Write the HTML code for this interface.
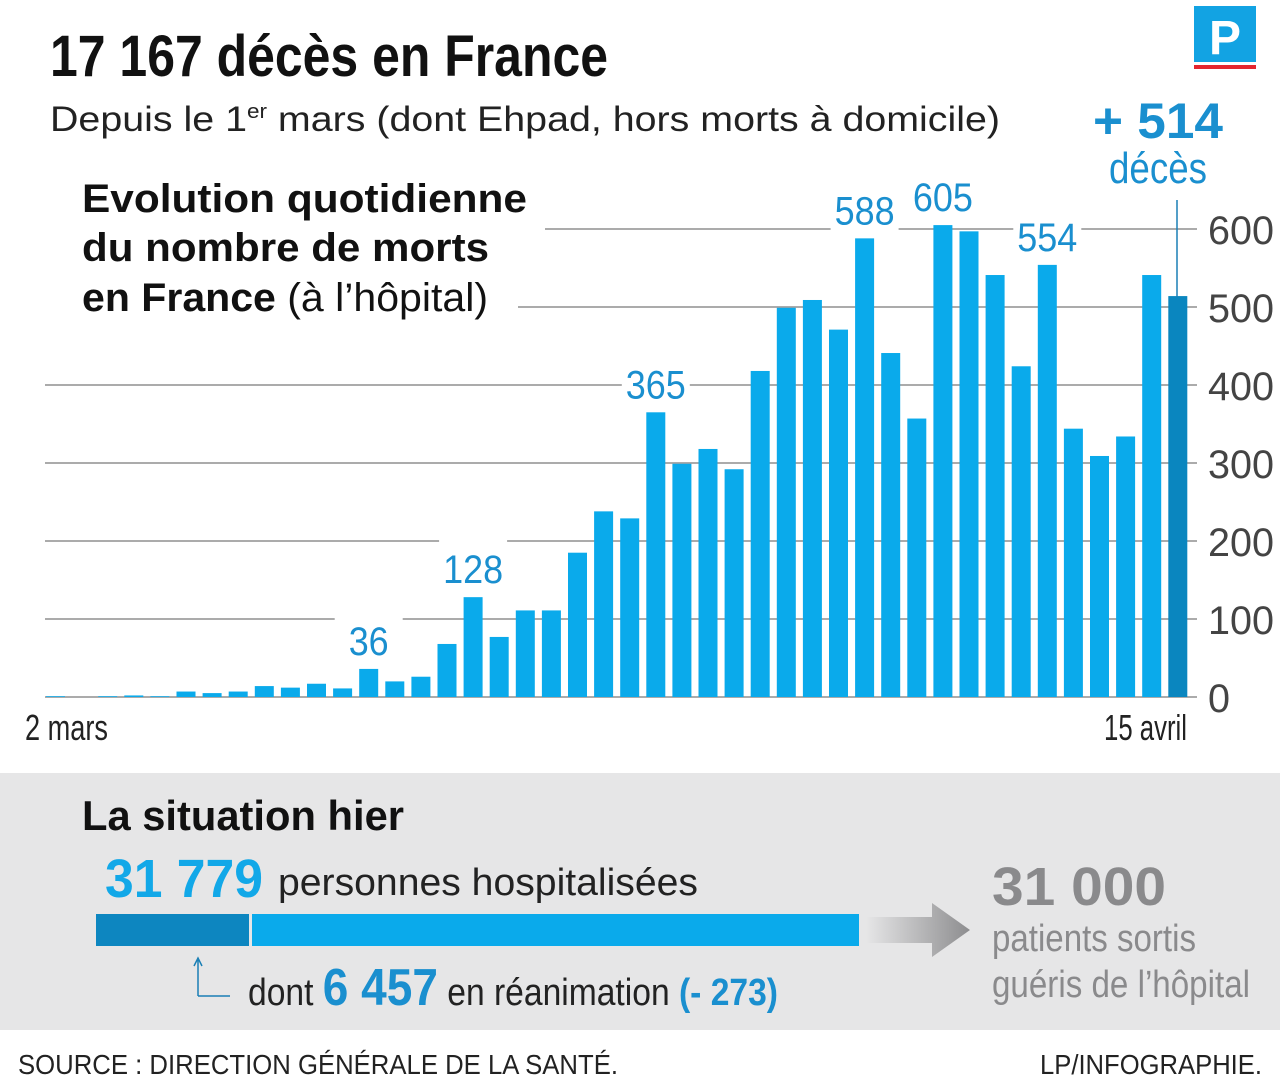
<!DOCTYPE html>
<html><head><meta charset="utf-8"><style>
html,body{margin:0;padding:0;background:#fff;}
svg{display:block;}
text{font-family:"Liberation Sans Narrow","Liberation Sans",sans-serif;}
</style></head><body>
<svg id="chart" width="1280" height="1080" viewBox="0 0 1280 1080">
  <text x="50" y="76" font-size="58" font-weight="bold" fill="#111" textLength="558" lengthAdjust="spacingAndGlyphs">17 167 décès en France</text>
  <g>
    <rect x="1194" y="6" width="62" height="56" fill="#12a3e3"/>
    <rect x="1194" y="65" width="62" height="4" fill="#e3262f"/>
    <text x="1225" y="54" font-size="48" font-weight="bold" fill="#fff" text-anchor="middle" font-family="Liberation Serif,serif">P</text>
  </g>
  <text x="50" y="131" font-size="35" fill="#222" font-family="Liberation Sans,sans-serif" textLength="950" lengthAdjust="spacingAndGlyphs">Depuis le 1<tspan font-size="20" dy="-13">er</tspan><tspan dy="13"> mars (dont Ehpad, hors morts à domicile)</tspan></text>
  <g>
    <text x="82" y="212" font-size="40" font-weight="bold" fill="#111" textLength="445" lengthAdjust="spacingAndGlyphs">Evolution quotidienne</text>
    <text x="82" y="261" font-size="40" font-weight="bold" fill="#111" textLength="407" lengthAdjust="spacingAndGlyphs">du nombre de morts</text>
    <text x="82" y="311" font-size="40" fill="#111" textLength="406" lengthAdjust="spacingAndGlyphs"><tspan font-weight="bold">en France</tspan> (à l’hôpital)</text>
  </g>
  <g id="grid"></g>
  <g id="bars"></g>
  <g id="labels"></g>
  <text x="1158" y="138" font-size="50" font-weight="bold" fill="#1a8fcf" text-anchor="middle" font-family="Liberation Sans,sans-serif" textLength="130" lengthAdjust="spacingAndGlyphs">+ 514</text>
  <text x="1158" y="183" font-size="44" fill="#1a8fcf" text-anchor="middle" textLength="98" lengthAdjust="spacingAndGlyphs">décès</text>
  <line x1="1177" y1="200" x2="1177" y2="297" stroke="#1a7fb5" stroke-width="1.5"/>
  <text x="25" y="740" font-size="36" fill="#222" textLength="83" lengthAdjust="spacingAndGlyphs">2 mars</text>
  <text x="1104" y="740" font-size="36" fill="#222" textLength="83" lengthAdjust="spacingAndGlyphs">15 avril</text>

  <rect x="0" y="773" width="1280" height="257" fill="#e6e6e7"/>
  <text x="82" y="830" font-size="42" font-weight="bold" fill="#111" textLength="322" lengthAdjust="spacingAndGlyphs">La situation hier</text>
  <text x="105" y="897" font-size="54" font-weight="bold" fill="#12a8e8" textLength="158" lengthAdjust="spacingAndGlyphs">31 779</text>
  <text x="278" y="895" font-size="38" fill="#222" textLength="420" lengthAdjust="spacingAndGlyphs">personnes hospitalisées</text>
  <rect x="96" y="914" width="153" height="32" fill="#0d86c0"/>
  <rect x="252" y="914" width="607" height="32" fill="#0aaaeb"/>
  <defs><linearGradient id="ag" x1="0" x2="1"><stop offset="0" stop-color="#e6e6e7"/><stop offset="1" stop-color="#8d8d8f"/></linearGradient></defs>
  <path d="M866 917 L932 917 L932 903 L970 930 L932 957 L932 943 L866 943 Z" fill="url(#ag)"/>
  <text x="992" y="905" font-size="54" font-weight="bold" fill="#8a8a8c" textLength="174" lengthAdjust="spacingAndGlyphs">31 000</text>
  <text x="992" y="951" font-size="38" fill="#8a8a8c" textLength="204" lengthAdjust="spacingAndGlyphs">patients sortis</text>
  <text x="992" y="997" font-size="38" fill="#8a8a8c" textLength="258" lengthAdjust="spacingAndGlyphs">guéris de l’hôpital</text>
  <path d="M198 996 L198 960 M194 966 L198 958 L202 966 M198 996 L230 996" stroke="#1a7fb5" stroke-width="1.5" fill="none"/>
  <text x="248" y="1005" font-size="38" fill="#222" textLength="530" lengthAdjust="spacingAndGlyphs">dont <tspan font-size="52" font-weight="bold" fill="#1a8fcf">6 457</tspan> en réanimation <tspan font-weight="bold" fill="#1a8fcf">(- 273)</tspan></text>
  <text x="18" y="1074" font-size="28" fill="#222" textLength="600" lengthAdjust="spacingAndGlyphs">SOURCE : DIRECTION GÉNÉRALE DE LA SANTÉ.</text>
  <text x="1262" y="1074" font-size="28" fill="#222" text-anchor="end" textLength="222" lengthAdjust="spacingAndGlyphs">LP/INFOGRAPHIE.</text>
</svg>
<script>
const values = [1,0,1,2,1,7,5,7,14,12,17,11,36,20,26,68,128,77,111,111,185,238,229,365,299,318,292,418,499,509,471,588,441,357,605,597,541,424,554,344,309,334,541,514];
const labelledIndices = [12,16,23,31,34,38];
const yTicks = [0,100,200,300,400,500,600];
const gridStarts = [45,45,45,45,45,518,545];

const NS = "http://www.w3.org/2000/svg";
const y = v => 697 - v * 0.78;
const x = i => 46 + i * 26.1;
function mk(tag, attrs, parent){const e=document.createElementNS(NS,tag);for(const k in attrs)e.setAttribute(k,attrs[k]);parent.appendChild(e);return e;}
const grid=document.getElementById('grid'), bars=document.getElementById('bars'), labels=document.getElementById('labels');
yTicks.forEach((t,j)=>{
  const l=mk('line',{x1:gridStarts[j],x2:1197,y1:y(t),y2:y(t),stroke:'#8f8f8f','stroke-width':1.5},grid);
  
  
  const tx=mk('text',{x:1208,y:y(t)+15,'font-size':40,fill:'#444',textLength:String(t).length*22,lengthAdjust:'spacingAndGlyphs'},grid);
  tx.textContent=t;
  
  
});
values.forEach((v,i)=>{
  const last=i===values.length-1;
  const r=mk('rect',{x:x(i),y:y(v),width:19,height:697-y(v),fill:last?'#0a86bf':'#0aaaeb'},bars);
  
  
});
labelledIndices.forEach(i=>{
  const v=values[i];
  const cx=x(i)+9.5;
  const bg=mk('rect',{x:cx-34,y:y(v)-58,width:68,height:50,fill:'#fff'},labels);
  
  
  const t=mk('text',{x:cx,y:y(v)-14,'font-size':40,fill:'#1a8fcf','text-anchor':'middle',textLength:String(v).length*20,lengthAdjust:'spacingAndGlyphs'},labels);
  t.textContent=v;
  
  
});
</script>
</body></html>
